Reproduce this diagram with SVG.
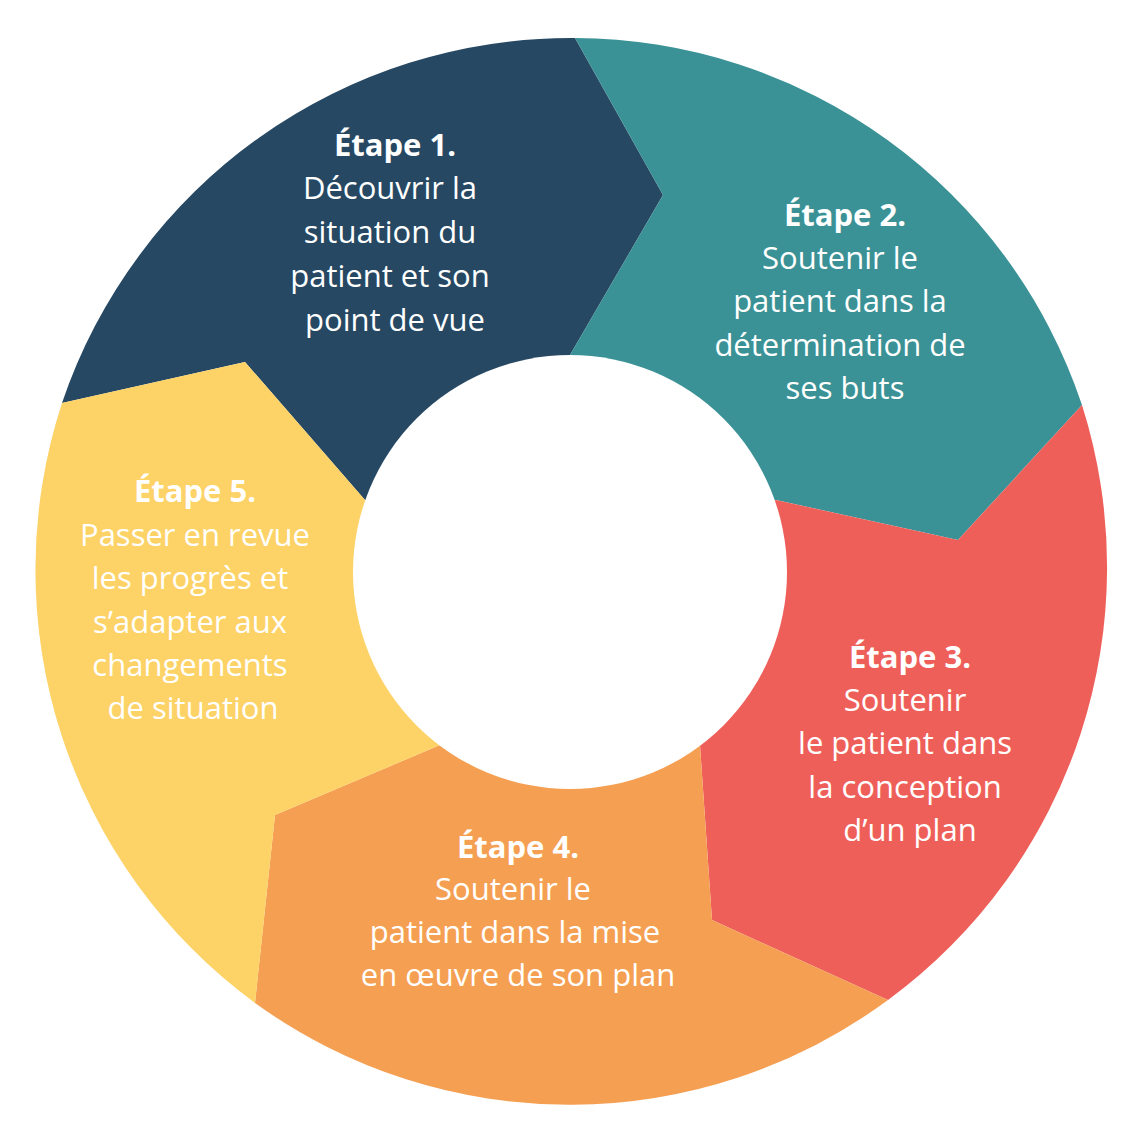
<svg xmlns="http://www.w3.org/2000/svg" width="1137" height="1138" viewBox="0 0 1137 1138">
<style>
text{font-family:"Open Sans","Noto Sans",sans-serif;font-size:31px;fill:#fff;text-anchor:middle}
.h{font-weight:bold}
</style>
<rect width="1137" height="1138" fill="#fff"/>
<g id="s1"><path d="M62,403 A537,537 0 0 1 575,38 L663,195 L570,355 L570,572 L365,500 L245,362 Z" fill="#264863"/></g>
<g id="s2"><path d="M575,38 A537,537 0 0 1 1082,405 L958,540 L776,500 L570,572 L570,355 L663,195 Z" fill="#3a9296"/></g>
<g id="s3"><path d="M1082,405 A537,537 0 0 1 888,1000 L712,920 L700,745 L570,572 L776,500 L958,540 Z" fill="#ef5f5a"/></g>
<g id="s4"><path d="M888,1000 A537,537 0 0 1 255,1003 L275,815 L440,745 L570,572 L700,745 L712,920 Z" fill="#f59f52"/></g>
<g id="s5"><path d="M255,1003 A537,537 0 0 1 62,403 L245,362 L365,500 L570,572 L440,745 L275,815 Z" fill="#fdd266"/></g>
<circle cx="570" cy="572" r="217" fill="#fff"/>
<g id="t1"><text x="395" y="156" class="h">Étape 1.</text><text x="390" y="199">Découvrir la</text><text x="390" y="243">situation du</text><text x="390" y="287">patient et son</text><text x="395" y="331">point de vue</text></g>
<g id="t2"><text x="845" y="226" class="h">Étape 2.</text><text x="840" y="269">Soutenir le</text><text x="840" y="312">patient dans la</text><text x="840" y="356">détermination de</text><text x="845" y="399">ses buts</text></g>
<g id="t3"><text x="910" y="668" class="h">Étape 3.</text><text x="905" y="711">Soutenir</text><text x="905" y="754">le patient dans</text><text x="905" y="798">la conception</text><text x="910" y="841">d’un plan</text></g>
<g id="t4"><text x="518" y="858" class="h">Étape 4.</text><text x="513" y="900">Soutenir le</text><text x="515" y="943">patient dans la mise</text><text x="518" y="986">en œuvre de son plan</text></g>
<g id="t5"><text x="195" y="502" class="h">Étape 5.</text><text x="195" y="546">Passer en revue</text><text x="190" y="589">les progrès et</text><text x="190" y="633">s’adapter aux</text><text x="190" y="676">changements</text><text x="193" y="719">de situation</text></g>
</svg>
